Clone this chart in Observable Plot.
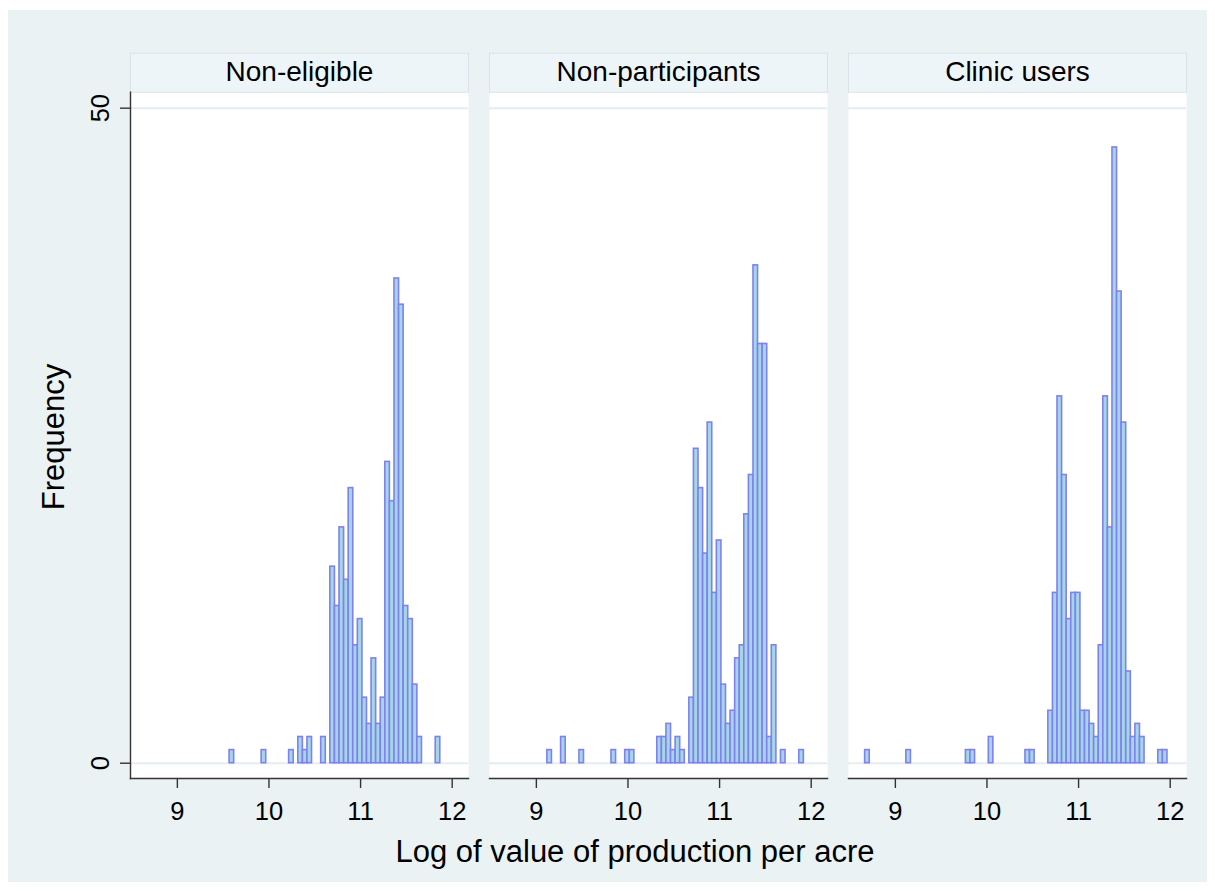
<!DOCTYPE html>
<html>
<head>
<meta charset="utf-8">
<script src="https://cdn.jsdelivr.net/npm/d3@7"></script>
<script src="https://cdn.jsdelivr.net/npm/@observablehq/plot@0.6"></script>
<style>
  body { margin: 0; background: #ffffff; }
  #wrap { position: relative; width: 1215px; height: 892px; background: #ffffff; overflow: hidden; }
  #bg { position: absolute; left: 8px; top: 10px; width: 1199px; height: 872px; background: #EAF2F3; }
  #chart { position: absolute; left: 0; top: 0; }
</style>
</head>
<body>
<div id="wrap"><div id="bg"></div><div id="chart"></div></div>
<script>
// ---- Data ----
const groups = ["Non-eligible", "Non-participants", "Clinic users"];
const binStart = 8.67;   // lower edge of first bin
const binWidth = 0.05;   // bin width
// counts per bin (66 bins)
const nonEligible = [
  0,0,0,0,0,0,0,0,0,0,
  0,0,0,0,0,0,0,0,1,0,
  0,0,0,0,0,1,0,0,0,0,
  0,1,0,2,1,2,0,0,2,0,
  15,12,18,14,21,9,11,5,3,8,
  3,5,23,20,37,35,12,11,6,2,
  0,0,0,2,0,0
];
const nonParticipants = [
  0,0,0,0,0,0,0,0,0,1,
  0,0,2,0,0,0,1,0,0,0,
  0,0,0,1,0,0,1,1,0,0,
  0,0,0,2,2,3,1,2,1,0,
  5,24,21,16,26,13,17,6,3,4,
  8,9,19,22,38,32,32,2,9,0,
  1,0,0,0,1,0
];
const clinicUsers = [
  1,0,0,0,0,0,0,0,0,1,
  0,0,0,0,0,0,0,0,0,0,
  0,0,1,1,0,0,0,2,0,0,
  0,0,0,0,0,1,1,0,0,0,
  4,13,28,22,11,13,13,4,4,3,
  2,9,28,18,47,36,26,7,2,3,
  2,0,0,0,1,1
];
const xTicks = [9, 10, 11, 12];
const yTicks = [0, 50];
const xTitle = "Log of value of production per acre";
const yTitle = "Frequency";

// ---- Build table ----
const countsByGroup = [nonEligible, nonParticipants, clinicUsers];
const rows = groups.flatMap((g, gi) =>
  countsByGroup[gi].map((c, i) => ({
    group: g,
    x1: binStart + i * binWidth,
    x2: binStart + (i + 1) * binWidth,
    count: c
  }))
).filter(d => d.count > 0);

const axisColor = "#333333";
const font = "'Liberation Sans', Arial, Helvetica, sans-serif";

const chart = Plot.plot({
  width: 1215,
  height: 892,
  marginLeft: 129,
  marginRight: 27,
  marginTop: 91.7,
  marginBottom: 114,
  style: { background: "transparent", fontFamily: font, color: "#000" },
  x: { domain: [8.4885, 12.178] },
  y: { domain: [-1.168, 51.22] },
  fx: { domain: groups, paddingInner: 0.0583, paddingOuter: 0 },
  marks: [
    Plot.frame({ fill: "white", stroke: "none" }),
    Plot.frame({ fill: "#EEF5F8", stroke: "#D8E3E8", strokeWidth: 1, insetTop: -39, insetBottom: 686.3 }),
    Plot.ruleY(yTicks, { stroke: "#E4EDF1", strokeWidth: 2 }),
    Plot.rect(rows, {
      fx: "group", x1: "x1", x2: "x2", y1: 0, y2: "count",
      fill: "#A5D6E5", stroke: "#8080F2", strokeWidth: 1.6
    }),
    Plot.frame({ anchor: "bottom", stroke: axisColor, strokeWidth: 1.4 }),
    Plot.frame({ anchor: "left", facetAnchor: "left", stroke: axisColor, strokeWidth: 1.4 }),
    Plot.axisX({
      ticks: xTicks, tickFormat: d => String(d), tickSize: 10, tickPadding: 13.7, fontSize: 25.5,
      label: null, stroke: axisColor, strokeWidth: 1.4, fill: "#000"
    }),
    Plot.axisY({
      ticks: yTicks, tickFormat: d => String(d), tickSize: 10, tickPadding: 11.7, tickRotate: -90, fontSize: 25.5,
      label: null, stroke: axisColor, strokeWidth: 1.4, fill: "#000"
    }),
    Plot.axisFx({ anchor: "top", tickSize: 0, tickPadding: 11.7, fontSize: 28, label: null, fill: "#000" })
  ]
});

const svg = d3.select(chart);
svg.append("text")
  .attr("x", 635).attr("y", 862)
  .attr("text-anchor", "middle")
  .attr("font-size", 31)
  .attr("fill", "#000")
  .text(xTitle);
svg.append("text")
  .attr("transform", "translate(64,437) rotate(-90)")
  .attr("text-anchor", "middle")
  .attr("font-size", 31)
  .attr("fill", "#000")
  .text(yTitle);

document.getElementById("chart").appendChild(chart);
</script>
</body>
</html>
